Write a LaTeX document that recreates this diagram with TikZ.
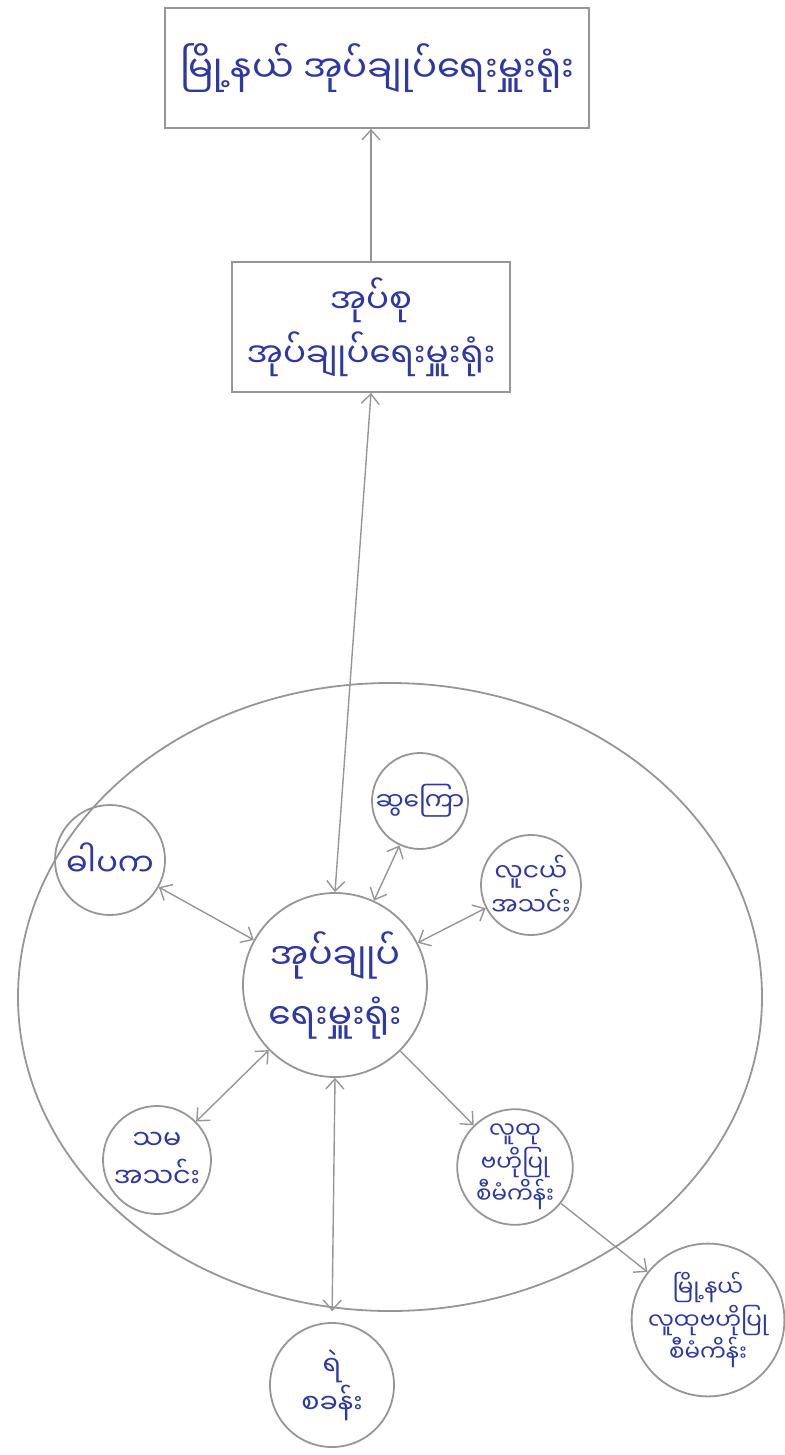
\documentclass[tikz,border=0pt]{standalone}
\usepackage{fontspec}
\newfontfamily\mmfont[Script=Myanmar]{Noto Sans Myanmar UI}
\usetikzlibrary{arrows.meta}
\definecolor{pen}{RGB}{45,55,165}
\definecolor{pencil}{RGB}{150,150,150}

\begin{document}
\begin{tikzpicture}[x=0.5pt,y=-0.5pt,
  >={Straight Barb[length=5pt,width=9pt]},
  office/.style={draw=pencil,line width=0.9pt,text=pen,align=center,font=\mmfont\fontsize{18.5}{28}\selectfont},
  unit/.style={circle,draw=pencil,line width=0.9pt,inner sep=0pt,text=pen,align=center,font=\mmfont\fontsize{13.5}{19}\selectfont},
  link/.style={draw=pencil,line width=0.7pt}]
\useasboundingbox (0,0) rectangle (785,1455);
% offices
\node[office,minimum width=212pt,minimum height=60pt] (tsp) at (377,68) {မြို့နယ် အုပ်ချုပ်ရေးမှူးရုံး};
\node[office,minimum width=139pt,minimum height=65pt,font=\mmfont\fontsize{17}{27}\selectfont] (tract) at (371,327) {အုပ်စု\\အုပ်ချုပ်ရေးမှူးရုံး};
% village ring
\draw[pencil,line width=0.9pt] (390,997) ellipse [x radius=372,y radius=314];
\node[unit,minimum size=92pt,font=\mmfont\fontsize{18}{30}\selectfont] (centre) at (335,985) {အုပ်ချုပ်\\ရေးမှူးရုံး};
\node[unit,minimum size=48pt,font=\mmfont\fontsize{12.5}{17}\selectfont] (hswe) at (420,801) {ဆွကြော};
\node[unit,minimum size=55pt,font=\mmfont\fontsize{16}{22}\selectfont] (ga) at (110,860) {ဓါပက};
\node[unit,minimum size=50pt,font=\mmfont\fontsize{12.5}{17}\selectfont] (youth) at (531,885) {လူငယ်\\အသင်း};
\node[unit,minimum size=54pt] (sama) at (157,1160) {သမ\\အသင်း};
\node[unit,minimum size=56pt,font=\mmfont\fontsize{11.5}{14.5}\selectfont] (cdd) at (515,1167) {လူထု\\ဗဟိုပြု\\စီမံကိန်း};
\node[unit,minimum size=62pt] (police) at (332,1385) {ရဲ\\စခန်း};
\node[unit,minimum size=67pt,font=\mmfont\fontsize{11.5}{15}\selectfont] (tspcdd) at (708,1320) {မြို့နယ်\\လူထုဗဟိုပြု\\စီမံကိန်း};
% connectors
\draw[link,->] (tract.north) -- (tract.north |- tsp.south);
\draw[link,<->] (centre.north) -- (tract.south);
\draw[link,<->] (ga) -- (centre);
\draw[link,<->] (hswe) -- (centre);
\draw[link,<->] (youth) -- (centre);
\draw[link,<->] (sama) -- (centre);
\draw[link,<->,shorten >=5.5pt] (centre.south) -- (police.north);
\draw[link,->] (centre) -- (cdd);
\draw[link,->] (cdd) -- (tspcdd);
\end{tikzpicture}
\end{document}
